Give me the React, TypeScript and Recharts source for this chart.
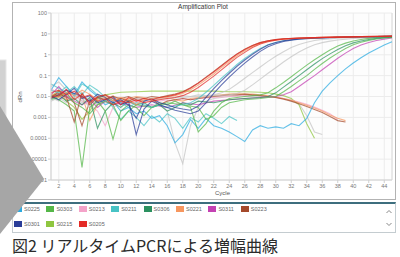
import { LineChart, Line, XAxis, YAxis, CartesianGrid, ReferenceLine } from "recharts";

type Pt = [number, number];

const xTicks = [2, 4, 6, 8, 10, 12, 14, 16, 18, 20, 22, 24, 26, 28, 30, 32, 34, 36, 38, 40, 42, 44];
const yTicks = [0.000001, 0.00001, 0.0001, 0.001, 0.01, 0.1, 1, 10, 100];

const sampleNames = ["S0225", "S0303", "S0213", "S0211", "S0306", "S0221", "S0311", "S0223", "S0301", "S0215", "S0205"];
const sampleColors = ["#2aaae0", "#55b748", "#f4a3c9", "#48c3c5", "#2b9160", "#f7975f", "#c441b3", "#a5492b", "#2a3d98", "#8fc640", "#e42b26"];
const grayTrace = "#c4c4c4";

// dRn per cycle
const s0205a: Pt[] = [[1,0.015],[2,0.02],[3,0.012],[4,0.018],[5,0.009],[6,0.012],[7,0.006],[8,0.008],[9,0.004],[10,0.006],[11,0.005],[12,0.007],[13,0.005],[14,0.006],[15,0.007],[16,0.008],[17,0.009],[18,0.011],[19,0.016],[20,0.027],[21,0.05],[22,0.095],[23,0.19],[24,0.38],[25,0.75],[26,1.3],[27,2.2],[28,3.3],[29,4.2],[30,5.0],[31,5.5],[32,5.9],[33,6.2],[35,6.6],[38,7.0],[41,7.3],[45,7.7]];
const s0205b: Pt[] = [[1,0.009],[2,0.011],[3,0.022],[4,0.007],[5,0.013],[6,0.005],[7,0.01],[8,0.012],[9,0.008],[10,0.004],[11,0.009],[12,0.006],[13,0.008],[14,0.007],[15,0.009],[16,0.01],[17,0.012],[18,0.016],[19,0.025],[20,0.043],[21,0.08],[22,0.15],[23,0.29],[24,0.56],[25,1.05],[26,1.8],[27,2.8],[28,3.8],[29,4.7],[30,5.3],[31,5.8],[33,6.3],[35,6.6],[38,7.0],[41,7.4],[45,7.8]];
const s0223a: Pt[] = [[1,0.01],[2,0.014],[3,0.009],[4,0.0006],[5,0.015],[6,0.004],[7,0.009],[8,0.007],[9,0.01],[10,0.008],[11,0.006],[12,0.009],[13,0.008],[14,0.01],[15,0.009],[16,0.011],[17,0.013],[18,0.017],[19,0.026],[20,0.045],[21,0.085],[22,0.16],[23,0.31],[24,0.6],[25,1.1],[26,1.85],[27,2.8],[28,3.8],[29,4.6],[30,5.3],[31,5.8],[33,6.3],[35,6.6],[38,7.0],[41,7.4],[45,7.8]];
const s0221a: Pt[] = [[1,0.012],[2,0.009],[3,0.016],[4,0.011],[5,0.02],[6,0.013],[7,0.007],[8,0.01],[9,0.006],[10,0.009],[11,0.007],[12,0.004],[13,0.007],[14,0.008],[15,0.009],[16,0.01],[17,0.011],[18,0.014],[19,0.021],[20,0.035],[21,0.065],[22,0.12],[23,0.24],[24,0.47],[25,0.9],[26,1.55],[27,2.5],[28,3.5],[29,4.4],[30,5.1],[31,5.6],[33,6.2],[35,6.6],[38,7.0],[41,7.3],[45,7.7]];
const s0301a: Pt[] = [[1,0.008],[2,0.012],[3,0.02],[4,0.014],[5,0.01],[6,0.006],[7,0.013],[8,0.009],[9,0.005],[10,0.007],[11,0.004],[12,0.0009],[13,0.006],[14,0.008],[15,0.005],[16,0.004],[17,0.003],[18,0.0025],[19,0.0022],[20,0.0035],[21,0.009],[22,0.024],[23,0.058],[24,0.13],[25,0.28],[26,0.56],[27,1.05],[28,1.85],[29,2.9],[30,3.9],[31,4.7],[32,5.3],[33,5.8],[35,6.3],[38,6.9],[41,7.3],[45,7.6]];
const s0301b: Pt[] = [[1,0.011],[2,0.007],[3,0.013],[4,0.025],[5,0.008],[6,0.011],[7,0.005],[8,0.007],[9,0.01],[10,0.004],[11,0.006],[12,0.00015],[13,0.0025],[14,0.006],[15,0.004],[16,0.003],[17,0.0022],[18,0.0018],[19,0.0015],[20,0.002],[21,0.005],[22,0.014],[23,0.036],[24,0.085],[25,0.19],[26,0.4],[27,0.78],[28,1.45],[29,2.4],[30,3.4],[31,4.3],[32,5.0],[33,5.6],[35,6.2],[38,6.8],[41,7.2],[45,7.6]];
const s0211a: Pt[] = [[1,0.02],[2,0.015],[3,0.03],[4,0.01],[5,0.04],[6,0.025],[7,0.012],[8,0.006],[9,0.008],[10,0.005],[11,0.003],[12,0.005],[13,0.004],[14,0.003],[15,0.004],[16,0.003],[17,0.0035],[18,0.004],[19,0.005],[20,0.008],[21,0.016],[22,0.034],[23,0.075],[24,0.16],[25,0.34],[26,0.66],[27,1.2],[28,2.0],[29,3.0],[30,3.9],[31,4.7],[33,5.7],[35,6.3],[38,6.9],[41,7.3],[45,7.6]];
const grayA: Pt[] = [[1,0.03],[2,0.05],[3,0.02],[4,0.011],[5,0.006],[6,0.009],[7,0.004],[8,0.007],[9,0.009],[10,0.005],[11,0.007],[12,0.008],[13,0.006],[14,0.008],[15,0.009],[16,0.01],[17,0.009],[18,0.011],[19,0.01],[20,0.012],[21,0.011],[22,0.012],[23,0.015],[24,0.022],[25,0.04],[26,0.075],[27,0.14],[28,0.26],[29,0.48],[30,0.85],[31,1.4],[32,2.2],[33,3.1],[34,4.0],[35,4.8],[36,5.4],[38,6.2],[41,6.9],[45,7.5]];
const grayB: Pt[] = [[1,0.006],[2,0.009],[3,0.005],[4,0.012],[5,0.008],[6,0.003],[7,0.006],[8,0.005],[9,0.007],[10,0.006],[12,0.005],[14,0.007],[16,0.008],[18,0.009],[20,0.01],[22,0.011],[24,0.012],[25,0.014],[26,0.02],[27,0.036],[28,0.068],[29,0.13],[30,0.24],[31,0.45],[32,0.8],[33,1.35],[34,2.1],[35,3.0],[36,3.8],[37,4.5],[38,5.1],[40,6.0],[42,6.6],[45,7.3]];
const s0303a: Pt[] = [[1,0.01],[2,0.007],[3,0.004],[4,0.002],[5,0.000004],[6,0.003],[7,0.006],[8,0.002],[9,0.00009],[10,0.002],[11,0.004],[12,0.003],[13,0.0012],[14,0.003],[15,0.005],[16,0.004],[17,0.006],[18,0.004],[19,0.003],[20,0.0002],[21,0.0005],[22,0.002],[23,0.005],[24,0.008],[25,0.009],[26,0.01],[27,0.011],[28,0.012],[29,0.015],[30,0.026],[31,0.047],[32,0.088],[33,0.17],[34,0.32],[35,0.58],[36,1.0],[37,1.7],[38,2.6],[39,3.6],[40,4.6],[41,5.4],[42,6.1],[43,6.6],[44,7.0],[45,7.4]];
const s0306a: Pt[] = [[1,0.009],[2,0.012],[3,0.006],[4,0.008],[5,0.004],[6,0.009],[7,0.0003],[8,0.002],[9,0.005],[10,0.003],[11,0.006],[12,0.004],[13,0.005],[14,0.003],[15,0.004],[16,0.002],[17,0.003],[18,0.005],[19,0.004],[20,0.006],[22,0.005],[24,0.007],[26,0.008],[28,0.009],[29,0.01],[30,0.015],[31,0.028],[32,0.052],[33,0.1],[34,0.19],[35,0.36],[36,0.65],[37,1.1],[38,1.8],[39,2.7],[40,3.7],[41,4.6],[42,5.4],[43,6.1],[44,6.6],[45,7.0]];
const s0303b: Pt[] = [[1,0.007],[2,0.01],[3,0.015],[4,0.005],[5,0.003],[6,0.0015],[7,0.004],[8,0.006],[9,0.004],[10,0.0007],[11,0.002],[12,0.004],[14,0.003],[16,0.005],[18,0.004],[20,0.003],[21,0.0008],[22,0.0012],[23,0.003],[24,0.005],[26,0.007],[28,0.008],[30,0.01],[31,0.017],[32,0.03],[33,0.056],[34,0.1],[35,0.2],[36,0.38],[37,0.7],[38,1.2],[39,2.0],[40,3.0],[41,4.0],[42,4.9],[43,5.7],[44,6.3],[45,6.8]];
const s0311a: Pt[] = [[1,0.012],[2,0.03],[3,0.011],[4,0.006],[5,0.004],[6,0.007],[7,0.003],[8,0.006],[9,0.004],[10,0.005],[12,0.003],[14,0.004],[16,0.003],[18,0.005],[20,0.004],[22,0.006],[24,0.007],[26,0.008],[28,0.009],[30,0.01],[31,0.012],[32,0.017],[33,0.03],[34,0.055],[35,0.1],[36,0.19],[37,0.36],[38,0.68],[39,1.2],[40,2.0],[41,2.9],[42,3.9],[43,4.8],[44,5.6],[45,6.3]];
const s0225a: Pt[] = [[1,0.02],[2,0.08],[3,0.03],[4,0.012],[5,0.05],[6,0.02],[7,0.01],[8,0.004],[9,0.006],[10,0.002],[11,0.003],[12,0.0015],[13,0.002],[14,0.0009],[15,0.0012],[16,0.0004],[17,0.00006],[18,0.00015],[19,0.0008],[20,0.0003],[21,0.0009],[22,0.0004],[23,0.0003],[24,0.0002],[25,0.00012],[26,0.00007],[27,0.00025],[28,0.0004],[29,0.0003],[30,0.00035],[31,0.0003],[32,0.0005],[33,0.0004],[34,0.0009],[35,0.005],[36,0.018],[37,0.045],[38,0.1],[39,0.21],[40,0.4],[41,0.72],[42,1.2],[43,1.9],[44,2.9],[45,4.2]];
const s0211b: Pt[] = [[1,0.04],[2,0.025],[3,0.015],[4,0.03],[5,0.012],[6,0.035],[7,0.02],[8,0.009],[9,0.003],[10,0.0008],[11,0.002],[12,0.001],[13,0.0004],[14,0.0012],[15,0.0006],[16,0.0015],[17,0.0009],[18,0.0003],[19,0.001],[20,0.0006],[21,0.0015],[22,0.0009],[23,0.0005],[24,0.0011],[25,0.0007]];
const s0223h: Pt[] = [[1,0.008],[2,0.018],[3,0.01],[4,0.005],[5,0.0004],[6,0.006],[7,0.009],[8,0.012],[9,0.006],[10,0.008],[11,0.01],[12,0.007],[13,0.006],[14,0.008],[15,0.004],[16,0.006],[17,0.007],[18,0.008],[19,0.007],[20,0.008],[21,0.009],[22,0.01],[23,0.011],[24,0.012],[25,0.012],[26,0.013],[27,0.012],[28,0.011],[29,0.01],[30,0.009],[31,0.0075],[32,0.006],[33,0.0045],[34,0.0033],[35,0.0024],[36,0.0017],[37,0.0011],[38,0.0007],[39,0.0006]];
const s0221h: Pt[] = [[1,0.014],[2,0.01],[3,0.007],[4,0.009],[5,0.012],[6,0.0007],[7,0.004],[8,0.007],[9,0.011],[10,0.006],[11,0.008],[12,0.01],[13,0.009],[14,0.006],[15,0.008],[16,0.009],[17,0.007],[18,0.006],[19,0.008],[20,0.009],[21,0.01],[22,0.011],[23,0.012],[24,0.013],[25,0.014],[26,0.013],[27,0.013],[28,0.012],[29,0.011],[30,0.0095],[31,0.008],[32,0.0065],[33,0.005],[34,0.0038],[35,0.0028],[36,0.002],[37,0.0013],[38,0.0009],[39,0.0007]];
const s0213h: Pt[] = [[1,0.025],[2,0.012],[3,0.008],[4,0.015],[5,0.006],[6,0.004],[7,0.002],[8,0.0004],[9,0.003],[10,0.005],[11,0.004],[12,0.006],[13,0.005],[14,0.007],[15,0.006],[16,0.007],[17,0.006],[18,0.008],[19,0.007],[20,0.008],[22,0.009],[24,0.01],[26,0.011],[28,0.011],[29,0.01],[30,0.009],[31,0.008],[32,0.0068],[33,0.0055],[34,0.0042],[35,0.0031],[36,0.0022],[37,0.0015],[38,0.0008]];
const grayC: Pt[] = [[1,0.009],[2,0.006],[3,0.012],[4,0.008],[5,0.005],[6,0.007],[7,0.004],[8,0.006],[9,0.008],[10,0.005],[11,0.007],[12,0.006],[13,0.008],[14,0.006],[15,0.005],[16,0.002],[17,0.00006],[18,0.000006],[19,0.0004],[20,0.003],[21,0.006],[22,0.008],[24,0.01],[26,0.011],[28,0.01],[30,0.009],[31,0.008],[32,0.006],[33,0.0045],[34,0.0012],[35,0.0002],[36,0.00015]];
const s0215a: Pt[] = [[1,0.01],[2,0.02],[3,0.006],[4,0.003],[5,0.0008],[6,0.002],[7,0.008],[8,0.012],[9,0.014],[10,0.016],[12,0.017],[14,0.018],[16,0.018],[18,0.018],[20,0.018],[22,0.018],[24,0.017],[26,0.017],[28,0.016],[29,0.015],[30,0.013],[31,0.011],[32,0.008],[33,0.004],[34,0.0005],[35,0.0001]];

const col = (name: string) => sampleColors[sampleNames.indexOf(name)];

const traces = [
  { id: "grayC", color: grayTrace, pts: grayC },
  { id: "s0211b", color: col("S0211"), pts: s0211b },
  { id: "s0215a", color: col("S0215"), pts: s0215a },
  { id: "s0213h", color: col("S0213"), pts: s0213h },
  { id: "s0221h", color: col("S0221"), pts: s0221h },
  { id: "s0223h", color: col("S0223"), pts: s0223h },
  { id: "grayA", color: grayTrace, pts: grayA },
  { id: "grayB", color: grayTrace, pts: grayB },
  { id: "s0225a", color: col("S0225"), pts: s0225a },
  { id: "s0311a", color: col("S0311"), pts: s0311a },
  { id: "s0303b", color: col("S0303"), pts: s0303b },
  { id: "s0306a", color: col("S0306"), pts: s0306a },
  { id: "s0303a", color: col("S0303"), pts: s0303a },
  { id: "s0211a", color: col("S0211"), pts: s0211a },
  { id: "s0301b", color: col("S0301"), pts: s0301b },
  { id: "s0301a", color: col("S0301"), pts: s0301a },
  { id: "s0221a", color: col("S0221"), pts: s0221a },
  { id: "s0223a", color: col("S0223"), pts: s0223a },
  { id: "s0205b", color: col("S0205"), pts: s0205b },
  { id: "s0205a", color: col("S0205"), pts: s0205a },
];

const sans = "'Liberation Sans', Arial, sans-serif";
const tick = { fontSize: 5.5, fill: "#777", fontFamily: sans };

function Scroller() {
  return (
    <svg width={8} height={20} style={{ position: "absolute", left: 385, top: 208 }}>
      <polyline points="1.5,5 4,2.5 6.5,5" fill="none" stroke="#888" strokeWidth={1} />
      <polyline points="1.5,15 4,17.5 6.5,15" fill="none" stroke="#888" strokeWidth={1} />
    </svg>
  );
}

export default function App() {
  return (
    <div style={{ position: "absolute", left: 0, top: 0, width: 400, height: 257, background: "#fff", overflow: "hidden" }}>
      <div style={{ position: "absolute", left: 12, top: 2, width: 384, height: 198, border: "1px solid #b3b3b3", boxSizing: "border-box" }} />
      <div style={{ position: "absolute", left: 12, top: 2 }}>
        <LineChart width={384} height={198} margin={{ top: 11, right: 4, left: 0, bottom: 6 }}>
          <CartesianGrid stroke="#ececec" fill="#fdfdfd" />
          <XAxis
            type="number"
            dataKey="c"
            domain={[1, 45]}
            ticks={xTicks}
            interval={0}
            height={14}
            tick={tick}
            tickSize={3}
            tickMargin={1}
            stroke="#cfcfcf"
          />
          <YAxis
            type="number"
            scale="log"
            domain={[0.000001, 100]}
            allowDataOverflow
            ticks={yTicks}
            interval={0}
            width={39}
            tick={tick}
            tickSize={3}
            tickMargin={1}
            stroke="#cfcfcf"
            tickFormatter={(v: number) => String(v)}
          />
          <ReferenceLine x={45} stroke="#dcdcdc" />
          {traces.map((t) => (
            <Line
              key={t.id}
              data={t.pts.map(([c, v]) => ({ c, v }))}
              dataKey="v"
              type="linear"
              stroke={t.color}
              strokeWidth={1.1}
              strokeOpacity={0.72}
              dot={false}
              activeDot={false}
              isAnimationActive={false}
            />
          ))}
        </LineChart>
      </div>
      <div style={{ position: "absolute", left: 0, width: 406, top: 3, textAlign: "center", fontFamily: sans, fontSize: 6.5, color: "#333" }}>
        Amplification Plot
      </div>
      <div style={{ position: "absolute", left: 12, top: 94, width: 16, textAlign: "center", transform: "rotate(-90deg)", fontFamily: sans, fontSize: 6, color: "#555" }}>
        dRn
      </div>
      <div style={{ position: "absolute", left: 215, top: 190, fontFamily: sans, fontSize: 6, color: "#555" }}>Cycle</div>

      <div style={{ position: "absolute", left: 12, top: 202, width: 384, height: 31, borderTop: "2px solid #3d6e7e", borderLeft: "1px solid #c4ccd0", borderRight: "1px solid #c4ccd0", borderBottom: "1px solid #c4ccd0", boxSizing: "border-box" }} />
      {sampleNames.map((name, i) => (
        <div key={name} style={{ position: "absolute", left: 14 + (i % 8) * 32.4, top: i < 8 ? 206 : 221, display: "flex", alignItems: "center", fontFamily: sans, fontSize: 5.5, color: "#666" }}>
          <span style={{ width: 8, height: 6, background: sampleColors[i], marginRight: 2 }} />
          {name}
        </div>
      ))}
      <Scroller />

      <svg width={50} height={257} style={{ position: "absolute", left: 0, top: 0 }}>
        <rect x={-1} y={60} width={7} height={139} fill="#d2d2d2" stroke="#e6e6e6" />
        <polygon points="0,106 44,179 0,234" fill="#a6a6a6" />
      </svg>

      <div style={{ position: "absolute", left: 12, top: 236, fontFamily: "'Noto Sans CJK JP', sans-serif", fontSize: 16, lineHeight: "18px", color: "#2b2b2b", whiteSpace: "nowrap" }}>
        図2 リアルタイムPCRによる増幅曲線
      </div>
    </div>
  );
}
